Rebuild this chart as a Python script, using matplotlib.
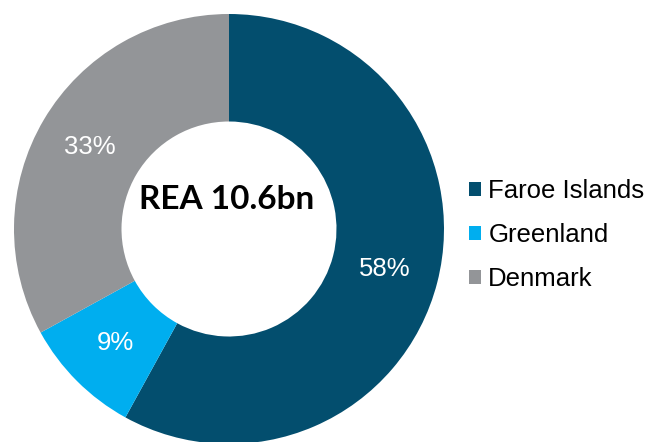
import matplotlib
matplotlib.use("Agg")
import matplotlib.pyplot as plt

regions = ["Faroe Islands", "Greenland", "Denmark"]
shares = [58, 9, 33]
colors = ["#034E6E", "#00AEEF", "#939598"]
centre_text = "REA 10.6bn"

plt.rcParams["font.family"] = ["Liberation Sans", "DejaVu Sans"]

W, H = 651, 442
fig = plt.figure(figsize=(W / 100, H / 100), dpi=100)
cx, cy, r = 229, 229, 215
ax = fig.add_axes([(cx - r) / W, (H - cy - r) / H, 2 * r / W, 2 * r / H])

wedges, texts, autotexts = ax.pie(
    shares, colors=colors, startangle=90, counterclock=False,
    radius=1, wedgeprops=dict(width=0.5, linewidth=0),
    autopct=lambda p: f"{p:.0f}%", pctdistance=0.75,
    textprops=dict(color="white", fontsize=18.5))
ax.set_xlim(-1, 1)
ax.set_ylim(-1, 1)
ax.set_aspect("equal")
ax.axis("off")

ax.text(-0.01, 0.135, centre_text, ha="center", va="center",
        fontsize=24, fontweight="bold", family="Lato", color="black")

fig.legend(wedges, regions, loc="center left", bbox_to_anchor=(469 / W, 1 - 235 / H),
           frameon=False, fontsize=18.5, handlelength=0.45, handleheight=0.45,
           handletextpad=0.3, labelspacing=0.78, borderpad=0, borderaxespad=0)

fig.savefig("out.png", dpi=100)
